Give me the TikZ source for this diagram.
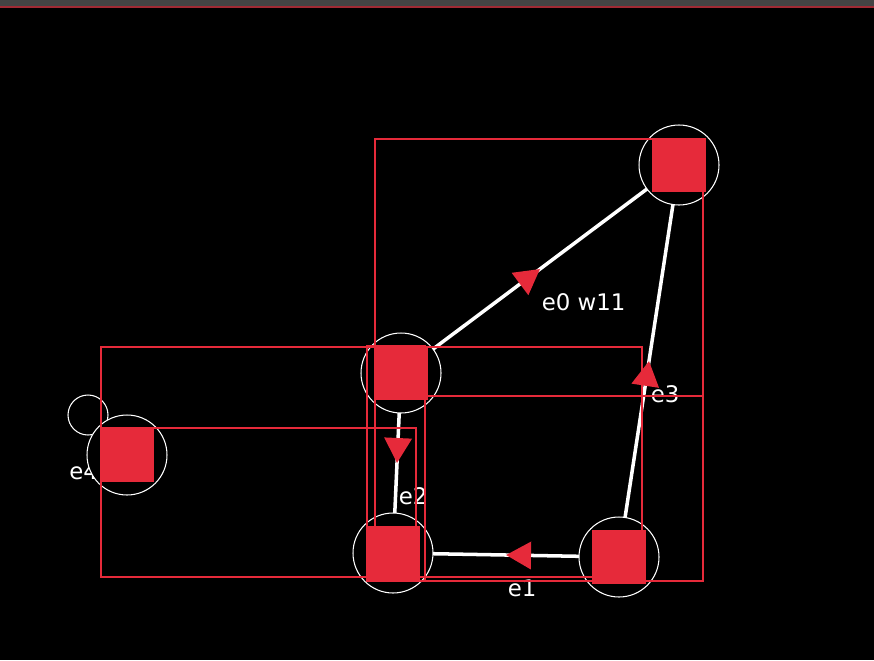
\documentclass[tikz,border=0pt]{standalone}
\usepackage{fontspec}
\setmainfont{DejaVu Sans}
\usetikzlibrary{arrows.meta, decorations.markings, calc}
\definecolor{vertexred}{HTML}{E62A3A}
\definecolor{bargray}{HTML}{444444}
\definecolor{bardark}{HTML}{A02A34}
\pgfdeclarelayer{back}
\pgfdeclarelayer{wires}
\pgfsetlayers{back,wires,main}
\tikzset{
  vertex/.style   = {circle, draw=white, line width=0.6pt, fill=black,
                     minimum size=1.6cm, inner sep=0pt,
                     path picture={\fill[vertexred]
                       ($(path picture bounding box.center)+(-0.54cm,-0.54cm)$)
                       rectangle +(1.08cm,1.08cm);}},
  link/.style     = {draw=white, line width=2pt, postaction={decorate},
                     decoration={markings, mark=at position 0.5 with
                       {\arrow{Triangle[length=0.5cm, width=0.54cm, color=vertexred]}}}},
  lab/.style      = {text=white, font=\fontsize{13}{14}\selectfont,
                     inner sep=0pt, anchor=north west},
  hull/.style     = {draw=vertexred, line width=1.1pt},
  selfloop/.style = {draw=white, line width=0.6pt},
}

\begin{document}
\begin{tikzpicture}[x=0.02cm, y=-0.02cm]
\useasboundingbox (0,0) rectangle (874,660);

% Window background
\begin{pgfonlayer}{back}
\fill[black] (0,0) rectangle (874,660);
\fill[bargray] (0,0) rectangle (874,6.5);
\draw[bardark, line width=0.7pt] (0,7) -- (874,7);
\end{pgfonlayer}

% Vertices
\node (v0) [vertex] at (679,165) {};
\node (v1) [vertex] at (401,373) {};
\node (v2) [vertex] at (393,553) {};
\node (v3) [vertex] at (619,557) {};
\node (v4) [vertex] at (127,455) {};

% Edges (behind the vertices)
\begin{pgfonlayer}{wires}
\draw [link] (v1.center) -- node[lab, yshift=-0.46cm] {e0 w11} (v0.center);
\draw [link] (v3.center) -- node[lab, yshift=-0.46cm] {e1} (v2.center);
\draw [link] (v1.center) -- node[lab, yshift=-0.46cm] {e2} (v2.center);
\draw [link] (v3.center) -- node[lab, yshift=-0.46cm] {e3} (v0.center);
\draw [selfloop] ($(v4.center)+(-39,-40)$) circle[radius=20];
\node (e4lab) [lab] at (69,462) {e4};
\end{pgfonlayer}

% Bounding boxes
\draw [hull] (375,139) rectangle (703,396);
\draw [hull] (375,396) rectangle (703,581);
\draw [hull] (101,347) rectangle (642,577);
\draw [hull] (101,428) rectangle (416,577);
\draw [hull] (367,346) rectangle (425,581);

\end{tikzpicture}
\end{document}
